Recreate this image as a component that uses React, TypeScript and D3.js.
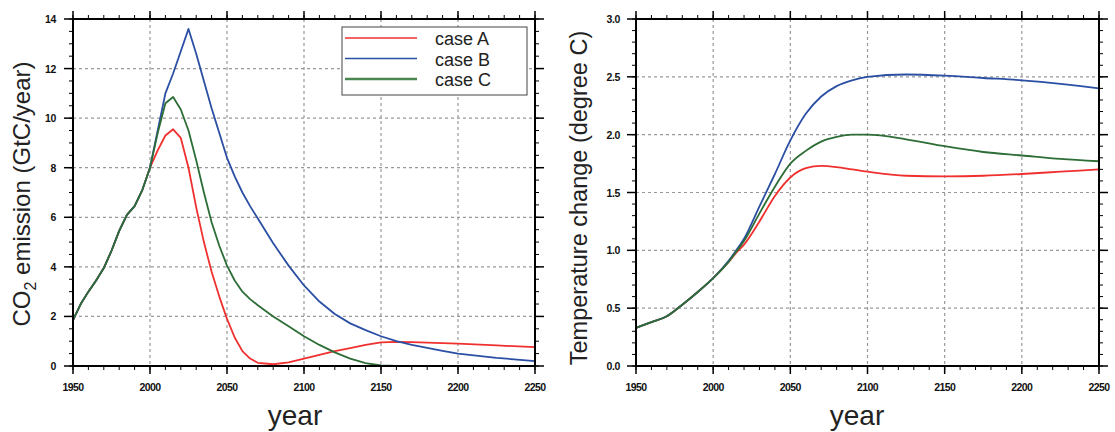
import React from "react";
import * as d3 from "d3";

// emission panel (GtC/year)
const emisYears = [1950, 1955, 1960, 1965, 1970, 1975, 1980, 1985, 1990, 1995, 2000, 2005, 2010, 2015, 2020, 2025, 2030, 2035, 2040, 2045, 2050, 2055, 2060, 2065, 2070, 2080, 2090, 2100, 2110, 2120, 2130, 2140, 2150, 2160, 2170, 2180, 2190, 2200, 2225, 2250];
const emisA = [1.85, 2.5, 3.0, 3.45, 3.95, 4.65, 5.45, 6.1, 6.45, 7.1, 8.0, 8.7, 9.3, 9.55, 9.2, 8.0, 6.4, 5.0, 3.8, 2.8, 1.9, 1.15, 0.6, 0.3, 0.13, 0.07, 0.15, 0.3, 0.45, 0.6, 0.72, 0.85, 0.95, 0.97, 0.96, 0.94, 0.92, 0.9, 0.83, 0.76];
const emisB = [1.85, 2.5, 3.0, 3.45, 3.95, 4.65, 5.45, 6.1, 6.45, 7.1, 8.0, 9.5, 11.0, 11.8, 12.7, 13.6, 12.6, 11.5, 10.4, 9.4, 8.4, 7.65, 7.0, 6.45, 5.95, 4.95, 4.05, 3.25, 2.6, 2.1, 1.72, 1.45, 1.2, 1.0, 0.85, 0.73, 0.61, 0.5, 0.33, 0.2];
const emisC = [1.85, 2.5, 3.0, 3.45, 3.95, 4.65, 5.45, 6.1, 6.45, 7.1, 8.0, 9.4, 10.6, 10.85, 10.35, 9.5, 8.3, 7.0, 5.8, 4.85, 4.05, 3.45, 3.0, 2.7, 2.45, 2.0, 1.6, 1.2, 0.85, 0.55, 0.3, 0.12, 0.02, 0.0, 0.0, 0.0, 0.0, 0.0, 0.0, 0.0];

// temperature panel (degree C)
const tempYears = [1950, 1960, 1970, 1980, 1990, 2000, 2010, 2015, 2020, 2030, 2040, 2050, 2060, 2070, 2080, 2090, 2100, 2125, 2150, 2175, 2200, 2225, 2250];
const tempA = [0.33, 0.38, 0.43, 0.53, 0.64, 0.76, 0.9, 0.98, 1.05, 1.25, 1.47, 1.63, 1.71, 1.73, 1.72, 1.7, 1.68, 1.645, 1.64, 1.645, 1.66, 1.68, 1.7];
const tempB = [0.33, 0.38, 0.43, 0.53, 0.64, 0.76, 0.91, 1.0, 1.1, 1.38, 1.66, 1.95, 2.18, 2.33, 2.42, 2.47, 2.5, 2.52, 2.51, 2.49, 2.47, 2.44, 2.4];
const tempC = [0.33, 0.38, 0.43, 0.53, 0.64, 0.76, 0.9, 0.99, 1.08, 1.32, 1.55, 1.75, 1.86, 1.94, 1.98, 2.0, 2.0, 1.96, 1.9, 1.85, 1.82, 1.79, 1.77];

const caseNames = ["case A", "case B", "case C"];
const caseColors = ["#f0302f", "#2b4fa3", "#2d6d36"];
const legendColors = ["#f0302f", "#2b4fa3", "#4a8650"];

const xTicks = [1950, 2000, 2050, 2100, 2150, 2200, 2250];

const tickFont = "'Liberation Sans', Arial, sans-serif";

const Panel = ({ left, right, top, bottom, yMax, yStep, yMinor, yFmt, years, series, curve, yTitle, titleX, titleY, titleSize, yearX, labelGap }) => {
    const x = d3.scaleLinear().domain([1950, 2250]).range([left, right]);
    const y = d3.scaleLinear().domain([0, yMax]).range([bottom, top]);
    const yTicks = d3.range(0, yMax + yStep / 2, yStep);
    const yMinorTicks = d3.range(0, yMax + yMinor / 2, yMinor);
    const xMinorTicks = d3.range(1950, 2251, 10);
    const line = d3.line().x(d => x(d[0])).y(d => y(d[1])).curve(curve);

    return (
        <g>
            {/* grid */}
            {xTicks.slice(1, -1).map(t => (
                <line key={"gx" + t} x1={x(t)} x2={x(t)} y1={top} y2={bottom} stroke="#999" strokeWidth={1.2} strokeDasharray="3,3" />
            ))}
            {yTicks.slice(1, -1).map(t => (
                <line key={"gy" + t} x1={left} x2={right} y1={y(t)} y2={y(t)} stroke="#999" strokeWidth={1.2} strokeDasharray="3,3" />
            ))}
            {/* series */}
            {series.map((s, i) => (
                <path key={i} d={line(years.map((yr, j) => [yr, s[j]]))} fill="none" stroke={caseColors[i]} strokeWidth={1.8} strokeLinejoin="round" />
            ))}
            {/* minor ticks */}
            {xMinorTicks.map(t => (
                <g key={"mx" + t}>
                    <line x1={x(t)} x2={x(t)} y1={bottom} y2={bottom + 4} stroke="#000" strokeWidth={1} />
                    <line x1={x(t)} x2={x(t)} y1={top} y2={top - 4} stroke="#000" strokeWidth={1} />
                </g>
            ))}
            {yMinorTicks.map(t => (
                <g key={"my" + t}>
                    <line x1={left} x2={left - 4} y1={y(t)} y2={y(t)} stroke="#000" strokeWidth={1} />
                    <line x1={right} x2={right + 4} y1={y(t)} y2={y(t)} stroke="#000" strokeWidth={1} />
                </g>
            ))}
            {/* major ticks */}
            {xTicks.map(t => (
                <g key={"tx" + t}>
                    <line x1={x(t)} x2={x(t)} y1={bottom} y2={bottom + 8} stroke="#000" strokeWidth={1.5} />
                    <line x1={x(t)} x2={x(t)} y1={top} y2={top - 8} stroke="#000" strokeWidth={1.5} />
                    <text x={x(t)} y={bottom + 25} textAnchor="middle" fontSize={10.5} fontWeight="bold" fontFamily={tickFont} letterSpacing={-0.6} fill="#111">{t}</text>
                </g>
            ))}
            {yTicks.map(t => (
                <g key={"ty" + t}>
                    <line x1={left} x2={left - 9} y1={y(t)} y2={y(t)} stroke="#000" strokeWidth={1.5} />
                    <line x1={right} x2={right + 9} y1={y(t)} y2={y(t)} stroke="#000" strokeWidth={1.5} />
                    <text x={left - labelGap} y={y(t) + 4} textAnchor="end" fontSize={10.5} fontWeight="bold" fontFamily={tickFont} letterSpacing={-0.4} fill="#111">{yFmt(t)}</text>
                </g>
            ))}
            {/* frame */}
            <rect x={left} y={top} width={right - left} height={bottom - top} fill="none" stroke="#000" strokeWidth={2} />
            <text x={yearX} y={425} textAnchor="middle" fontSize={28} fontFamily={tickFont} fill="#222">year</text>
            <text transform={`translate(${titleX},${titleY}) rotate(-90)`} textAnchor="middle" fontSize={titleSize} fontFamily={tickFont} fill="#222">{yTitle}</text>
        </g>
    );
};

const App = () => {
    const top = 19;
    const bottom = 366;
    return (
        <svg width={1115} height={432} style={{ position: "absolute", left: 0, top: 0, background: "#fff" }}>
            <Panel
                left={73} right={535} top={top} bottom={bottom}
                yMax={14} yStep={2} yMinor={0.5} yFmt={d3.format("d")}
                years={emisYears} series={[emisA, emisB, emisC]} curve={d3.curveLinear}
                yTitle={<>CO<tspan fontSize={16} dy={6}>2</tspan><tspan dy={-6}> emission (GtC/year)</tspan></>}
                titleX={30} titleY={194} titleSize={24} yearX={295} labelGap={17}
            />
            <Panel
                left={636} right={1099} top={top} bottom={bottom}
                yMax={3} yStep={0.5} yMinor={0.1} yFmt={d3.format(".1f")}
                years={tempYears} series={[tempA, tempB, tempC]} curve={d3.curveMonotoneX}
                yTitle="Temperature change (degree C)"
                titleX={587} titleY={198} titleSize={23.5} yearX={857} labelGap={16}
            />
            {/* legend */}
            <g>
                <rect x={342} y={27} width={185} height={68} fill="#fff" stroke="#444" strokeWidth={1} />
                {caseNames.map((n, i) => (
                    <g key={n}>
                        <line x1={345} x2={417} y1={38 + i * 20.5} y2={38 + i * 20.5} stroke={legendColors[i]} strokeWidth={i === 2 ? 2.5 : 1.5} />
                        <text x={435} y={45 + i * 20.5} fontSize={18} fontFamily={tickFont} fill="#222">{n}</text>
                    </g>
                ))}
            </g>
        </svg>
    );
};

export default App;
